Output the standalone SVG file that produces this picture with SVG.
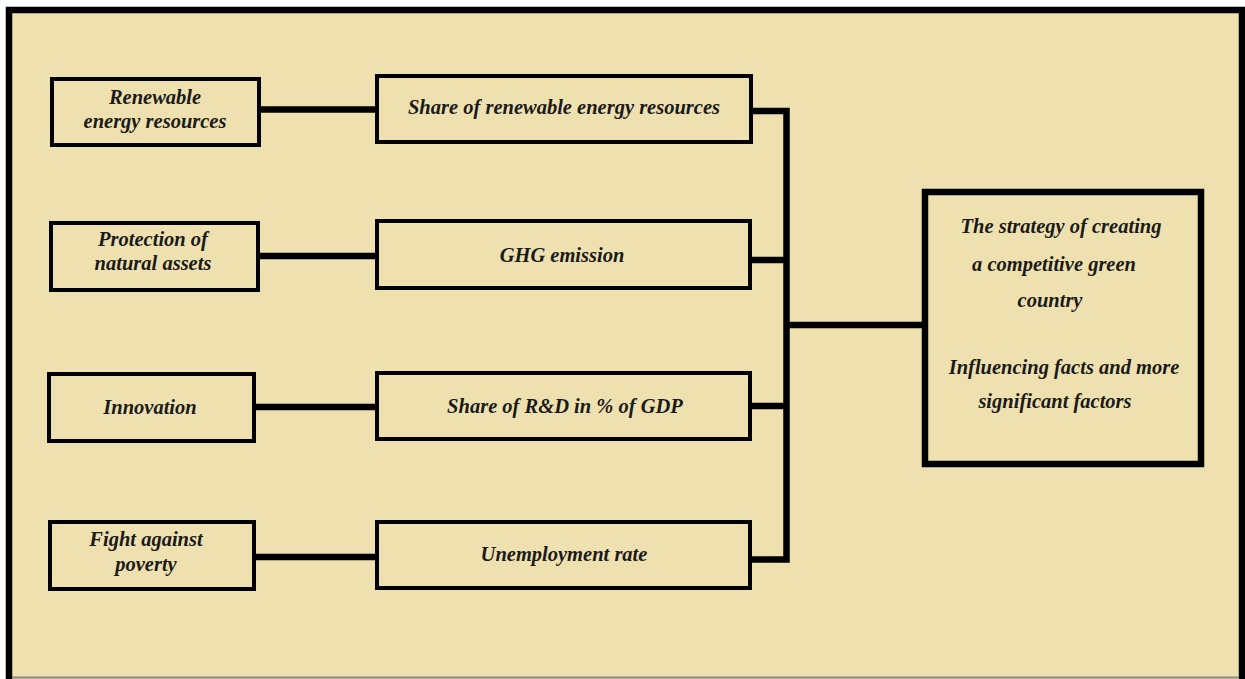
<svg xmlns="http://www.w3.org/2000/svg" width="1245" height="679" viewBox="0 0 1245 679">
<style>
.t{font-family:"Liberation Serif","Times New Roman",serif;font-style:italic;font-weight:bold;font-size:20.5px;fill:#1a1a1a;text-anchor:middle}
.box{fill:#EFE1AF;stroke:#000;stroke-width:4}
.big{fill:#EFE1AF;stroke:#000;stroke-width:6.5}
.c{fill:none;stroke:#000;stroke-width:6.5;stroke-linejoin:miter}
</style>
<rect x="0" y="0" width="1245" height="679" fill="#fff"/>
<rect x="9" y="10" width="1233" height="690" fill="#EFE1AF" stroke="#000" stroke-width="6.5"/>
<line x1="12" y1="677.5" x2="1239" y2="677.5" stroke="#888" stroke-width="2"/>
<g id="connectors">
<line class="c" x1="258" y1="109.5" x2="378" y2="109.5"/>
<line class="c" x1="256" y1="256" x2="378" y2="256"/>
<line class="c" x1="252" y1="407" x2="378" y2="407"/>
<line class="c" x1="252" y1="557" x2="378" y2="557"/>
<polyline class="c" points="750,111 786.5,111 786.5,559.5 750,559.5"/>
<line class="c" x1="750" y1="260" x2="786.5" y2="260"/>
<line class="c" x1="750" y1="406" x2="786.5" y2="406"/>
<line class="c" x1="786.5" y1="325" x2="925" y2="325"/>
</g>
<g id="n1"><rect class="box" x="52" y="79" width="207" height="66"/>
<text class="t" x="155" y="104">Renewable</text><text class="t" x="155" y="128">energy resources</text></g>
<g id="n2"><rect class="box" x="377" y="76" width="374" height="66"/>
<text class="t" x="564" y="114">Share of renewable energy resources</text></g>
<g id="n3"><rect class="box" x="51" y="223" width="207" height="67"/>
<text class="t" x="153" y="246">Protection of</text><text class="t" x="153" y="270">natural assets</text></g>
<g id="n4"><rect class="box" x="377" y="221" width="373" height="67"/>
<text class="t" x="562" y="262">GHG emission</text></g>
<g id="n5"><rect class="box" x="49" y="374" width="205" height="67"/>
<text class="t" x="150" y="414">Innovation</text></g>
<g id="n6"><rect class="box" x="377" y="373" width="373" height="66"/>
<text class="t" x="565" y="413">Share of R&amp;D in % of GDP</text></g>
<g id="n7"><rect class="box" x="50" y="522" width="204" height="67"/>
<text class="t" x="146" y="546">Fight against</text><text class="t" x="146" y="571">poverty</text></g>
<g id="n8"><rect class="box" x="377" y="522" width="373" height="66"/>
<text class="t" x="564" y="561">Unemployment rate</text></g>
<g id="n9"><rect class="big" x="925" y="192" width="276" height="272"/>
<text class="t" x="1061" y="233">The strategy of creating</text>
<text class="t" x="1054" y="271">a competitive green</text>
<text class="t" x="1050" y="307">country</text>
<text class="t" x="1064" y="374">Influencing facts and more</text>
<text class="t" x="1055" y="408">significant factors</text></g>
</svg>
